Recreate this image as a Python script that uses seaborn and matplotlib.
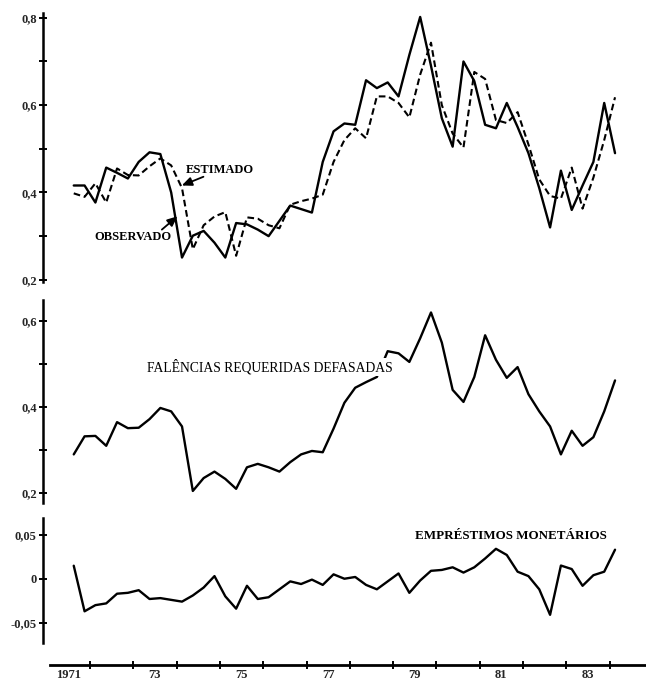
import numpy as np
import pandas as pd
import matplotlib
matplotlib.use("Agg")
import matplotlib.pyplot as plt
import seaborn as sns
from matplotlib.ticker import FixedLocator, FixedFormatter

# ---------------- data (quarterly, 1971Q3 .. 1984Q1) ----------------
quarters = pd.period_range("1971Q3", "1984Q1", freq="Q")
t = np.array([q.year + (q.quarter - 0.5) / 4.0 for q in quarters])

observado = [0.416, 0.416, 0.377, 0.457, 0.445, 0.432, 0.470, 0.492, 0.488, 0.400,
             0.251, 0.301, 0.312, 0.285, 0.251, 0.330, 0.327, 0.315, 0.300, 0.335,
             0.370, 0.362, 0.354, 0.470, 0.540, 0.558, 0.555, 0.657, 0.639, 0.652,
             0.620, 0.715, 0.802, 0.690, 0.570, 0.505, 0.700, 0.655, 0.555, 0.547,
             0.605, 0.550, 0.490, 0.410, 0.320, 0.450, 0.360, 0.416, 0.470, 0.605,
             0.490]

estimado = [0.398, 0.390, 0.421, 0.377, 0.455, 0.440, 0.439, 0.460, 0.478, 0.462,
            0.410, 0.270, 0.325, 0.345, 0.355, 0.255, 0.343, 0.340, 0.325, 0.318,
            0.372, 0.380, 0.386, 0.395, 0.470, 0.520, 0.547, 0.524, 0.620, 0.620,
            0.605, 0.572, 0.670, 0.743, 0.600, 0.535, 0.503, 0.676, 0.660, 0.566,
            0.559, 0.584, 0.510, 0.430, 0.392, 0.386, 0.457, 0.363, 0.434, 0.520,
            0.618]

falencias = [0.290, 0.332, 0.333, 0.310, 0.365, 0.351, 0.352, 0.372, 0.398, 0.390,
             0.355, 0.205, 0.235, 0.250, 0.233, 0.210, 0.260, 0.268, 0.260, 0.250,
             0.272, 0.290, 0.298, 0.295, 0.350, 0.410, 0.445, 0.458, 0.470, 0.530,
             0.525, 0.505, 0.560, 0.620, 0.550, 0.440, 0.412, 0.470, 0.567, 0.510,
             0.468, 0.493, 0.430, 0.390, 0.355, 0.290, 0.345, 0.310, 0.330, 0.390,
             0.462]

emprestimos = [0.0148, -0.037, -0.030, -0.028, -0.017, -0.016, -0.013, -0.023, -0.022, -0.024,
               -0.026, -0.019, -0.010, 0.003, -0.020, -0.034, -0.008, -0.023, -0.021, -0.012,
               -0.003, -0.006, -0.001, -0.007, 0.005, 0.000, 0.002, -0.007, -0.012, -0.003,
               0.006, -0.016, -0.002, 0.009, 0.010, 0.013, 0.007, 0.013, 0.023, 0.034,
               0.027, 0.008, 0.003, -0.012, -0.041, 0.015, 0.011, -0.008, 0.004, 0.008,
               0.033]

year_labels = ["1971", "73", "75", "77", "79", "81", "83"]
year_label_pos = [1971, 1973, 1975, 1977, 1979, 1981, 1983]
year_ticks = list(range(1972, 1985))

df_top = pd.DataFrame({"t": t, "obs": observado, "est": estimado})
df_mid = pd.DataFrame({"t": t, "fal": falencias})
df_bot = pd.DataFrame({"t": t, "emp": emprestimos})

# ---------------- style ----------------
sns.set_theme(style="white")
plt.rcParams["font.family"] = ["Liberation Serif", "DejaVu Serif"]
plt.rcParams["font.weight"] = "bold"
plt.rcParams["axes.linewidth"] = 1.5

W, H = 646, 681
fig = plt.figure(figsize=(W / 100, H / 100), dpi=100)
fig.patch.set_facecolor("white")

def axrect(top_px, bot_px, left_px=43):
    return [left_px / W, 1 - bot_px / H, (W - left_px) / W, (bot_px - top_px) / H]

ax1 = fig.add_axes(axrect(13, 282))
ax2 = fig.add_axes(axrect(300, 503))
ax3 = fig.add_axes(axrect(518, 643))

xlim = (1970.915, 1984.84)
lw = 1.7
col = "black"
tick_fs = 9

sns.lineplot(data=df_top, x="t", y="obs", ax=ax1, color=col, lw=lw, estimator=None)
sns.lineplot(data=df_top, x="t", y="est", ax=ax1, color=col, lw=1.5, estimator=None)
ax1.lines[-1].set_dashes([3.2, 1.8])
sns.lineplot(data=df_mid, x="t", y="fal", ax=ax2, color=col, lw=lw, estimator=None)
sns.lineplot(data=df_bot, x="t", y="emp", ax=ax3, color=col, lw=lw, estimator=None)

for ax in (ax1, ax2, ax3):
    ax.set_xlim(*xlim)
    ax.set_facecolor("none")
    ax.set_xlabel("")
    ax.set_ylabel("")
    for s in ("top", "right"):
        ax.spines[s].set_visible(False)
    ax.spines["left"].set_color(col)
    ax.spines["left"].set_linewidth(1.8)
    ax.tick_params(axis="y", direction="inout", length=6, width=1.4, color=col,
                   labelsize=tick_fs, pad=1.5, left=True)

for ax in (ax1, ax2):
    ax.spines["bottom"].set_visible(False)
    ax.set_xticks([])

# y ticks
ax1.set_ylim(0.195, 0.811)
ax1.yaxis.set_major_locator(FixedLocator([0.2, 0.3, 0.4, 0.5, 0.6, 0.7, 0.8]))
ax1.yaxis.set_major_formatter(FixedFormatter(["0,2", "", "0,4", "", "0,6", "", "0,8"]))

ax2.set_ylim(0.177, 0.649)
ax2.yaxis.set_major_locator(FixedLocator([0.2, 0.3, 0.4, 0.5, 0.6]))
ax2.yaxis.set_major_formatter(FixedFormatter(["0,2", "", "0,4", "", "0,6"]))

ax3.set_ylim(-0.073, 0.069)
ax3.yaxis.set_major_locator(FixedLocator([-0.05, 0.0, 0.05]))
ax3.yaxis.set_major_formatter(FixedFormatter(["-0,05", "0", "0,05"]))

for ax in (ax1, ax2, ax3):
    for lab in ax.get_yticklabels():
        lab.set_fontweight("bold")
        lab.set_fontsize(tick_fs)

# x axis (bottom panel, offset)
ax3.spines["bottom"].set_position(("outward", 15.8))
ax3.spines["bottom"].set_bounds(1971.08, xlim[1])
ax3.spines["bottom"].set_linewidth(2.0)
ax3.spines["bottom"].set_color(col)
ax3.xaxis.set_major_locator(FixedLocator(year_ticks))
ax3.xaxis.set_major_formatter(FixedFormatter([""] * len(year_ticks)))
ax3.xaxis.set_minor_locator(FixedLocator([y + 0.5 for y in year_label_pos]))
ax3.xaxis.set_minor_formatter(FixedFormatter(year_labels))
ax3.tick_params(axis="x", which="major", direction="inout", length=6, width=1.4,
                color=col, bottom=True)
ax3.tick_params(axis="x", which="minor", length=0, labelsize=tick_fs, pad=3.0, bottom=True)
for lab in ax3.xaxis.get_minorticklabels():
    lab.set_fontweight("bold")

# ---------------- annotations ----------------
txt_kw = dict(fontsize=9, fontweight="bold", color=col)
ax1.text(1974.22, 0.452, "ESTIMADO", ha="left", va="center", **txt_kw)
ax1.annotate("", xy=((t[10] + t[9]) / 2 + 0.12, (estimado[9] + estimado[10]) / 2 - 0.02),
             xytext=(1974.62, 0.436),
             arrowprops=dict(arrowstyle="-|>,head_length=0.5,head_width=0.22",
                             color=col, lw=1.3, shrinkA=0, shrinkB=0))
ax1.text(1973.88, 0.299, "OBSERVADO", ha="right", va="center", **txt_kw)
ax1.annotate("", xy=((t[9] + t[10]) / 2 + 0.02, (observado[9] + observado[10]) / 2 + 0.02),
             xytext=(1973.66, 0.315),
             arrowprops=dict(arrowstyle="-|>,head_length=0.5,head_width=0.22",
                             color=col, lw=1.3, shrinkA=0, shrinkB=0))

ax2.text(1976.16, 0.493, "FALÊNCIAS REQUERIDAS DEFASADAS", ha="center", va="center",
         fontsize=9.8, fontweight="normal", color=col,
         bbox=dict(facecolor="white", edgecolor="none", pad=1.0))
ax3.text(1981.73, 0.048, "EMPRÉSTIMOS MONETÁRIOS", ha="center", va="center",
         fontsize=9.4, fontweight="bold", color=col)

fig.savefig("out.png", dpi=100, facecolor="white")
